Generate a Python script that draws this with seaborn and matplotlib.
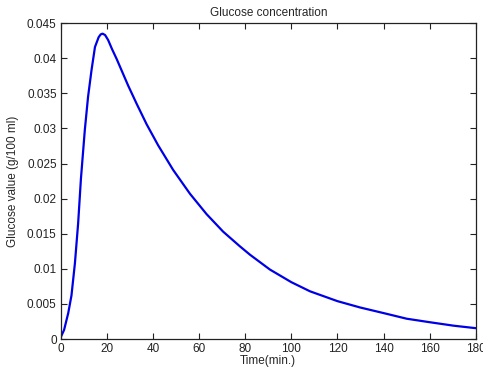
import pandas as pd
import seaborn as sns
import matplotlib
matplotlib.use('Agg')
import matplotlib.pyplot as plt

# Values
time_min = [0, 1.4, 3.2, 4.6, 6.1, 7.5, 8.7, 10.4, 11.8, 13.3, 14.8, 16.4, 17.3,
            18.1, 19.2, 20.5, 22.2, 24.2, 29.2, 32.9, 37.2, 42.2, 48.7, 56.0,
            63.2, 70.4, 77.7, 82.1, 90.7, 100.0, 108.1, 120.0, 129.8, 140.0,
            150.0, 160.0, 170.5, 180.0]
glucose = [0.0003, 0.0013, 0.0037, 0.0062, 0.0108, 0.0165, 0.0228, 0.0298,
           0.0345, 0.0383, 0.0416, 0.0430, 0.0434, 0.0435, 0.0433, 0.0426,
           0.0413, 0.0399, 0.0361, 0.0335, 0.0306, 0.0276, 0.0241, 0.0207,
           0.0178, 0.0153, 0.0132, 0.0120, 0.0099, 0.0081, 0.0068, 0.0054,
           0.0045, 0.0037, 0.0029, 0.0024, 0.0019, 0.00155]

x_ticks = [0, 20, 40, 60, 80, 100, 120, 140, 160, 180]
y_ticks = [0, 0.005, 0.01, 0.015, 0.02, 0.025, 0.03, 0.035, 0.04, 0.045]
y_labels = ['0', '0.005', '0.01', '0.015', '0.02', '0.025', '0.03', '0.035', '0.04', '0.045']

df = pd.DataFrame({'time': time_min, 'glucose': glucose})

sns.set_style('ticks')
plt.rcParams['font.family'] = ['Liberation Sans', 'DejaVu Sans']
plt.rcParams['xtick.direction'] = 'in'
plt.rcParams['ytick.direction'] = 'in'

fig = plt.figure(figsize=(4.83, 3.73), dpi=100)
ax = fig.add_axes([0.126, 0.091, 0.859, 0.847])

sns.lineplot(data=df, x='time', y='glucose', color='#0000e6', linewidth=1.6, ax=ax)

ax.set_xlim(0, 180)
ax.set_ylim(0, 0.045)
ax.set_xticks(x_ticks)
ax.set_yticks(y_ticks)
ax.set_yticklabels(y_labels)
ax.tick_params(labelsize=8.5, length=4, width=0.8, colors='#222222',
               top=True, right=True, labeltop=False, labelright=False, pad=3)
for s in ax.spines.values():
    s.set_visible(True)
    s.set_linewidth(0.9)
    s.set_color('#222222')

ax.set_title('Glucose concentration', fontsize=8.5, pad=5)
ax.set_xlabel('Time(min.)', fontsize=8.5, labelpad=0)
ax.set_ylabel('Glucose value (g/100 ml)', fontsize=8.5, labelpad=6)

fig.savefig('out.png', dpi=100, facecolor='white')
